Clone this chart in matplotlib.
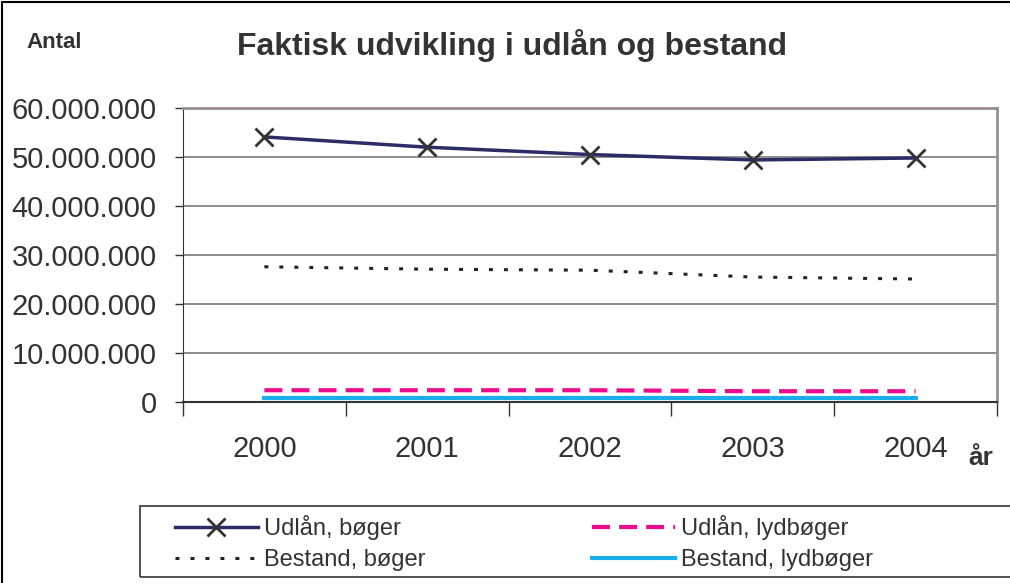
import matplotlib
matplotlib.use("Agg")
import matplotlib.pyplot as plt
from matplotlib.patches import Rectangle
from matplotlib.ticker import FuncFormatter
import numpy as np

years = ["2000", "2001", "2002", "2003", "2004"]
udlaan_boeger = [54.1e6, 52.0e6, 50.5e6, 49.4e6, 49.8e6]
bestand_boeger = [27.6e6, 27.1e6, 26.9e6, 25.5e6, 25.1e6]
udlaan_lyd = [2.4e6, 2.4e6, 2.4e6, 2.2e6, 2.2e6]
bestand_lyd = [0.8e6, 0.8e6, 0.8e6, 0.8e6, 0.8e6]
yticks = [0, 10e6, 20e6, 30e6, 40e6, 50e6, 60e6]

plt.rcParams["font.family"] = ["Liberation Sans", "DejaVu Sans"]
txt = "#333333"
W, H = 1010, 583

fig = plt.figure(figsize=(10.1, 5.83), dpi=100)
ax = fig.add_axes([183 / W, 1 - 402 / H, (997 - 183) / W, (402 - 108) / H])

x = np.arange(len(years))
l1, = ax.plot(x, udlaan_boeger, color="#2b2b66", lw=2.5, marker="x", ms=13,
              mec="#333333", mew=2, label="Udlån, bøger", zorder=4)
l2, = ax.plot(x, bestand_boeger, color="#222222", lw=2.2, ls=(0, (1.3, 3.6)),
              label="Bestand, bøger", zorder=3)
l3, = ax.plot(x, udlaan_lyd, color="#ee0a8a", lw=3, ls=(0, (4.3, 2.2)),
              label="Udlån, lydbøger", zorder=3)
l4, = ax.plot(x, bestand_lyd, color="#19aeea", lw=3, label="Bestand, lydbøger", zorder=3)

ax.set_xlim(-0.5, 4.5)
ax.set_ylim(0, 60e6)
ax.set_yticks(yticks)
ax.yaxis.set_major_formatter(FuncFormatter(lambda v, p: f"{int(v):,}".replace(",", ".")))
ax.grid(axis="y", color="#7a7a7a", lw=1.2)
ax.set_axisbelow(True)

ax.set_xticks(x)
ax.set_xticklabels(years)
ax.set_xticks(np.arange(-0.5, 5, 1), minor=True)
ax.tick_params(axis="x", which="major", length=0, pad=24, labelsize=21, labelcolor=txt)
ax.tick_params(axis="x", which="minor", length=10, width=1, color="#333333")
ax.tick_params(axis="y", length=6, width=1, color="#333333", pad=13, labelsize=21, labelcolor=txt)

for s in ("top", "right"):
    ax.spines[s].set_color("#9a8f8f")
    ax.spines[s].set_linewidth(2)
ax.spines["left"].set_color("#333333")
ax.spines["bottom"].set_color("#333333")
ax.spines["bottom"].set_linewidth(1.5)

fig.text(512 / W, 1 - 45 / H, "Faktisk udvikling i udlån og bestand", fontsize=23,
         fontweight="bold", color=txt, ha="center", va="center")
fig.text(26 / W, 1 - 43 / H, "Antal", fontsize=16, fontweight="bold", color=txt,
         ha="left", va="center")
fig.text(968 / W, 1 - 458 / H, "år", fontsize=19, fontweight="bold", color=txt,
         ha="left", va="center")

# legend: frame drawn by hand, two columns placed separately
fig.patches.append(Rectangle((140 / W, 1 - 577 / H), 880 / W, 71 / H, transform=fig.transFigure,
                             fill=False, edgecolor="#333333", lw=1.2))
for hs, x0 in (([l1, l2], 175), ([l3, l4], 592)):
    leg = fig.legend(handles=hs, loc="center left", bbox_to_anchor=(x0 / W, 1 - 543 / H),
                     fontsize=17, frameon=False, handlelength=3.5, handletextpad=0.25,
                     labelspacing=0.4, borderpad=0, borderaxespad=0)
    for t in leg.get_texts():
        t.set_color(txt)

fig.patches.append(Rectangle((0.002, -0.01), 1.1, 1.007, transform=fig.transFigure,
                             fill=False, edgecolor="black", lw=1.5))

fig.savefig("out.png", dpi=100)
